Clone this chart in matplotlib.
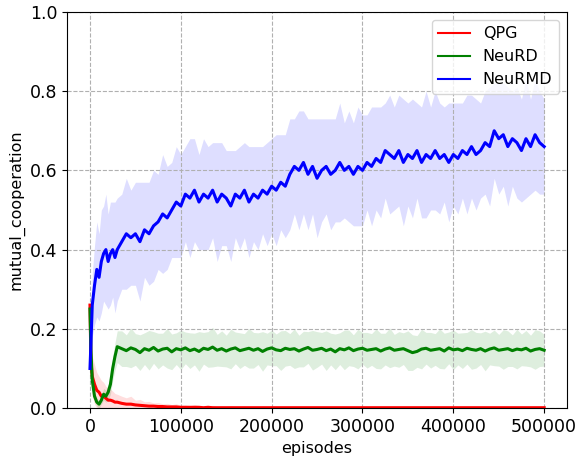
# Mutual cooperation over training episodes - QPG / NeuRD / NeuRMD

import numpy as np
import matplotlib
matplotlib.use("Agg")
import matplotlib.pyplot as plt

# ----------------------------
# 1. Data
# ----------------------------
early_episodes = [0, 1000, 2500, 5000, 7500, 10000, 12500, 15000, 17500, 20000, 22500, 25000, 27500]
episodes = np.concatenate([early_episodes, np.arange(30000, 500001, 5000)])

neurmd_mean = [
    0.10, 0.16, 0.26, 0.31, 0.35, 0.33, 0.37, 0.39, 0.40, 0.37, 0.39, 0.40, 0.38,
    0.40, 0.42, 0.44, 0.43, 0.44, 0.42, 0.45, 0.44, 0.46, 0.47, 0.49, 0.48, 0.50, 0.52, 0.51,
    0.54, 0.53, 0.55, 0.52, 0.54, 0.53, 0.55, 0.52, 0.54, 0.53, 0.51, 0.54, 0.53, 0.55, 0.52,
    0.54, 0.53, 0.55, 0.54, 0.56, 0.55, 0.57, 0.56, 0.59, 0.61, 0.60, 0.62, 0.59, 0.61, 0.58,
    0.60, 0.61, 0.59, 0.60, 0.62, 0.60, 0.61, 0.59, 0.61, 0.60, 0.62, 0.61, 0.63, 0.62, 0.65,
    0.64, 0.63, 0.65, 0.62, 0.64, 0.63, 0.65, 0.62, 0.64, 0.63, 0.65, 0.63, 0.64, 0.62, 0.64,
    0.63, 0.65, 0.64, 0.66, 0.64, 0.65, 0.67, 0.66, 0.70, 0.68, 0.69, 0.66, 0.68, 0.67, 0.65,
    0.68, 0.66, 0.69, 0.67, 0.66,
]
neurmd_spread = [
    0.02, 0.05, 0.08, 0.10, 0.12, 0.11, 0.13, 0.12, 0.14, 0.12, 0.13, 0.12, 0.14,
    0.13, 0.12, 0.14, 0.12, 0.13, 0.15, 0.12, 0.13, 0.14, 0.12, 0.15, 0.13, 0.12, 0.14, 0.13,
    0.12, 0.15, 0.13, 0.12, 0.14, 0.13, 0.12, 0.15, 0.13, 0.12, 0.14, 0.11, 0.13, 0.12, 0.14,
    0.12, 0.13, 0.11, 0.13, 0.12, 0.14, 0.12, 0.13, 0.14, 0.12, 0.15, 0.13, 0.14, 0.12, 0.15,
    0.13, 0.12, 0.14, 0.13, 0.15, 0.12, 0.14, 0.13, 0.15, 0.14, 0.12, 0.15, 0.13, 0.14, 0.12,
    0.15, 0.13, 0.14, 0.16, 0.13, 0.15, 0.12, 0.14, 0.16, 0.13, 0.15, 0.14, 0.12, 0.15, 0.13,
    0.14, 0.12, 0.15, 0.13, 0.14, 0.12, 0.13, 0.15, 0.12, 0.14, 0.13, 0.15, 0.12, 0.14, 0.13,
    0.15, 0.12, 0.14, 0.13, 0.12,
]

neurd_mean = [
    0.25, 0.15, 0.07, 0.03, 0.015, 0.01, 0.02, 0.035, 0.03, 0.04, 0.06, 0.10, 0.13,
    0.155, 0.150, 0.145, 0.152, 0.148, 0.140, 0.150, 0.146, 0.153, 0.144, 0.149, 0.151, 0.142, 0.150, 0.147,
    0.152, 0.145, 0.149, 0.143, 0.151, 0.148, 0.154, 0.146, 0.150, 0.144, 0.149, 0.152, 0.145, 0.148, 0.151,
    0.146, 0.150, 0.143, 0.149, 0.152, 0.147, 0.145, 0.151, 0.148, 0.150, 0.144, 0.149, 0.153, 0.146, 0.148,
    0.151, 0.145, 0.149, 0.142, 0.150, 0.147, 0.152, 0.145, 0.149, 0.151, 0.146, 0.148, 0.150, 0.144, 0.149,
    0.152, 0.146, 0.148, 0.150, 0.145, 0.140, 0.143, 0.149, 0.151, 0.146, 0.148, 0.150, 0.144, 0.152, 0.147,
    0.149, 0.145, 0.151, 0.148, 0.146, 0.150, 0.144, 0.149, 0.152, 0.146, 0.148, 0.150, 0.145, 0.149, 0.147,
    0.151, 0.144, 0.148, 0.150, 0.146,
]
neurd_spread = [
    0.01, 0.01, 0.01, 0.01, 0.01, 0.01, 0.01, 0.015, 0.015, 0.02, 0.025, 0.03, 0.035,
    0.04, 0.045, 0.04, 0.05, 0.04, 0.045, 0.04, 0.05, 0.04, 0.045, 0.04, 0.05, 0.045, 0.04, 0.05,
    0.04, 0.045, 0.04, 0.05, 0.04, 0.045, 0.05, 0.04, 0.045, 0.04, 0.05, 0.04, 0.045, 0.04, 0.05,
    0.045, 0.04, 0.05, 0.04, 0.045, 0.04, 0.05, 0.045, 0.04, 0.05, 0.04, 0.045, 0.04, 0.05, 0.045,
    0.04, 0.05, 0.04, 0.045, 0.04, 0.05, 0.045, 0.04, 0.05, 0.04, 0.045, 0.04, 0.05, 0.045, 0.04,
    0.05, 0.04, 0.045, 0.04, 0.05, 0.045, 0.04, 0.05, 0.04, 0.045, 0.04, 0.05, 0.045, 0.04, 0.05,
    0.04, 0.045, 0.04, 0.05, 0.045, 0.04, 0.05, 0.04, 0.045, 0.04, 0.05, 0.045, 0.04, 0.05, 0.04,
    0.045, 0.04, 0.05, 0.045, 0.04,
]

qpg_mean = [
    0.26, 0.12, 0.08, 0.06, 0.045, 0.04, 0.03, 0.03, 0.025, 0.02, 0.02, 0.018, 0.015,
    0.015, 0.012, 0.010, 0.010, 0.008, 0.007, 0.006, 0.005, 0.005, 0.004, 0.004, 0.003, 0.003, 0.003, 0.002,
    0.002, 0.002, 0.002, 0.002, 0.001, 0.002, 0.001, 0.001, 0.001, 0.001, 0.001, 0.001, 0.001, 0.001, 0.001,
    0.001, 0.001, 0.001, 0.001, 0.001, 0.001, 0.001, 0.001, 0.001, 0.001, 0.001, 0.001, 0.001, 0.001, 0.001,
    0.001, 0.001, 0.001, 0.001, 0.001, 0.001, 0.001, 0.001, 0.001, 0.001, 0.001, 0.001, 0.001, 0.001, 0.001,
    0.001, 0.001, 0.001, 0.001, 0.001, 0.001, 0.001, 0.001, 0.001, 0.001, 0.001, 0.001, 0.001, 0.001, 0.001,
    0.001, 0.001, 0.001, 0.001, 0.001, 0.001, 0.001, 0.001, 0.001, 0.001, 0.001, 0.001, 0.001, 0.001, 0.001,
    0.001, 0.001, 0.001, 0.001, 0.001,
]
qpg_spread = [
    0.02, 0.04, 0.05, 0.05, 0.045, 0.04, 0.04, 0.035, 0.03, 0.03, 0.028, 0.025, 0.022,
    0.02, 0.018, 0.016, 0.02, 0.012, 0.015, 0.010, 0.012, 0.008, 0.010, 0.007, 0.009, 0.006, 0.008, 0.005,
    0.006, 0.004, 0.007, 0.004, 0.005, 0.003, 0.006, 0.003, 0.004, 0.003, 0.005, 0.003, 0.003, 0.004, 0.002,
    0.003, 0.002, 0.004, 0.002, 0.003, 0.002, 0.003, 0.002, 0.002, 0.003, 0.002, 0.002, 0.003, 0.002, 0.002,
    0.002, 0.003, 0.002, 0.002, 0.002, 0.003, 0.002, 0.002, 0.002, 0.002, 0.003, 0.002, 0.002, 0.002, 0.002,
    0.002, 0.002, 0.003, 0.002, 0.002, 0.002, 0.002, 0.002, 0.003, 0.002, 0.002, 0.002, 0.002, 0.002, 0.002,
    0.003, 0.002, 0.002, 0.002, 0.002, 0.002, 0.002, 0.002, 0.002, 0.003, 0.002, 0.002, 0.002, 0.002, 0.002,
    0.002, 0.002, 0.002, 0.002, 0.002,
]

series = [
    ("QPG", qpg_mean, qpg_spread, "red"),
    ("NeuRD", neurd_mean, neurd_spread, "green"),
    ("NeuRMD", neurmd_mean, neurmd_spread, "blue"),
]

# ----------------------------
# 2. Plot
# ----------------------------
fig = plt.figure(figsize=(5.85, 4.57), dpi=100)
ax = fig.add_axes([0.115, 0.107, 0.854, 0.867])

for name, mean, spread, color in series:
    mean = np.array(mean)
    spread = np.array(spread)
    ax.fill_between(episodes, np.clip(mean - spread, 0, None), mean + spread,
                    color=color, alpha=0.13, linewidth=0)
    ax.plot(episodes, mean, color=color, linewidth=2.2, label=name)

ax.set_ylim(0, 1.0)
ax.set_xticks([0, 100000, 200000, 300000, 400000, 500000])
ax.tick_params(labelsize=12.5)
ax.set_xlabel("episodes", fontsize=11.5)
ax.set_ylabel("mutual_cooperation", fontsize=11.5)
ax.grid(True, linestyle="--", color="#b0b0b0", linewidth=0.8)
leg = ax.legend(loc="upper right", fontsize=11.5)
for line in leg.get_lines():
    line.set_linewidth(1.5)

fig.savefig("out.png", dpi=100)
